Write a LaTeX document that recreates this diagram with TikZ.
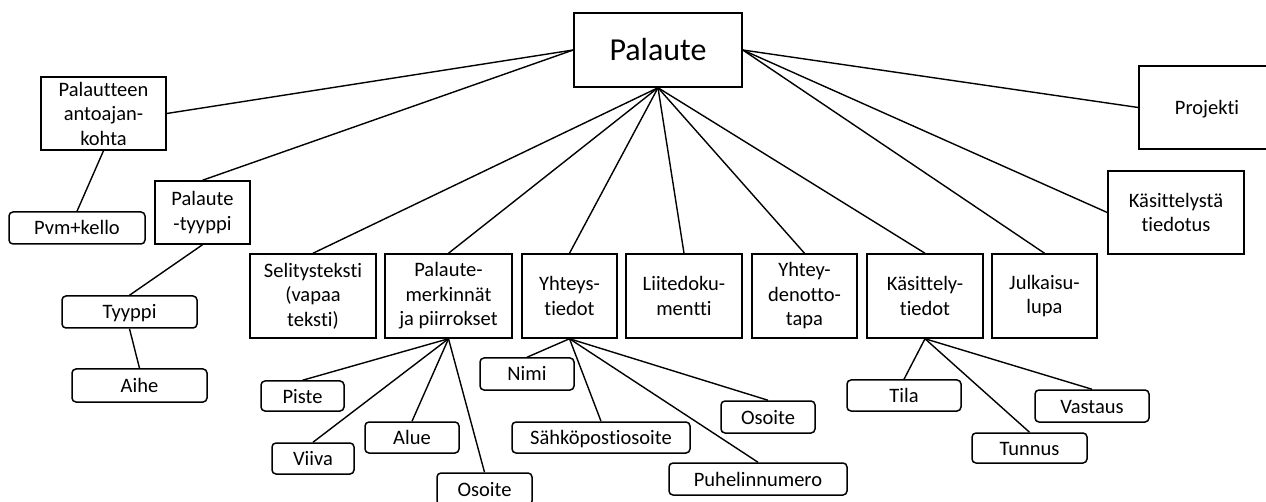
\documentclass[tikz,border=0pt]{standalone}
\usepackage{fontspec}
\setmainfont{Carlito}[Ligatures=NoCommon]
\usetikzlibrary{positioning}

\begin{document}
\begin{tikzpicture}[
    x=1pt, y=-1pt,
    box/.style={draw, line width=1.5pt, align=center, inner sep=0pt, font=\fontsize{20.5}{24.5}\selectfont},
    leaf/.style={box, rounded corners=4pt, text height=19.5pt, text depth=5.5pt},
    edge/.style={line width=1.4pt}
]
    \clip (0,0) rectangle (1266,502);

    \node[box, minimum width=168pt, minimum height=74pt, font=\fontsize{32}{38}\selectfont] (palaute) at (658,50) {Palaute};

    \node[box, minimum width=125pt, minimum height=73pt] (antoaika) at (103.5,113.5) {Palautteen\\antoajan-\\kohta};
    \node[leaf, minimum width=136pt, minimum height=32pt] (pvm) at (77,228) {Pvm+kello};
    \node[box, minimum width=95pt, minimum height=63pt] (ptyyppi) at (202.5,212.5) {Palaute\\-tyyppi};
    \node[leaf, minimum width=135pt, minimum height=32pt] (tyyppi) at (129.5,312) {Tyyppi};
    \node[leaf, minimum width=135pt, minimum height=33pt] (aihe) at (139.5,385.5) {Aihe};

    \node[box, minimum width=126pt, minimum height=84pt] (selitys) at (313,296) {Selitysteksti\\(vapaa\\teksti)};
    \node[box, minimum width=127pt, minimum height=84pt] (merkinnat) at (448.5,296) {Palaute-\\merkinnät\\ja piirrokset};
    \node[box, minimum width=95pt, minimum height=84pt] (yhteys) at (569.5,296) {Yhteys-\\tiedot};
    \node[box, minimum width=116pt, minimum height=84pt] (liite) at (684,296) {Liitedoku-\\mentti};
    \node[box, minimum width=105pt, minimum height=84pt] (yhteydenotto) at (804.5,296) {Yhtey-\\denotto-\\tapa};
    \node[box, minimum width=116pt, minimum height=84pt] (kasittely) at (925,296) {Käsittely-\\tiedot};
    \node[box, minimum width=105pt, minimum height=84pt] (julkaisu) at (1044.5,296) {Julkaisu-\\lupa};
    \node[box, minimum width=136pt, minimum height=83pt] (tiedotus) at (1176,212.5) {Käsittelystä\\tiedotus};
    \node[box, minimum width=136pt, minimum height=83pt, text height=19.5pt, text depth=5.5pt] (projekti) at (1207,107.5) {Projekti};

    \node[leaf, minimum width=83pt, minimum height=30pt] (piste) at (302.5,396) {Piste};
    \node[leaf, minimum width=82pt, minimum height=31pt] (viiva) at (313,458.5) {Viiva};
    \node[leaf, minimum width=94pt, minimum height=31pt] (alue) at (412,437.5) {Alue};
    \node[leaf, minimum width=95pt, minimum height=32pt] (osoite1) at (484.5,489) {Osoite};

    \node[leaf, minimum width=94pt, minimum height=32pt] (nimi) at (527,374) {Nimi};
    \node[leaf, minimum width=178pt, minimum height=31pt] (sahkoposti) at (601,437.5) {Sähköpostiosoite};
    \node[leaf, minimum width=94pt, minimum height=32pt] (osoite2) at (768,417) {Osoite};
    \node[leaf, minimum width=178pt, minimum height=32pt] (puhelin) at (758,479) {Puhelinnumero};

    \node[leaf, minimum width=114pt, minimum height=31pt] (tila) at (904,395.5) {Tila};
    \node[leaf, minimum width=114pt, minimum height=32pt] (vastaus) at (1092,406) {Vastaus};
    \node[leaf, minimum width=115pt, minimum height=30pt] (tunnus) at (1029.5,448) {Tunnus};

    \draw[edge] (palaute.west) -- (antoaika.east);
    \draw[edge] (palaute.west) -- (ptyyppi.north);

    \foreach \m in {selitys,merkinnat,yhteys,liite,yhteydenotto,kasittely} {
        \draw[edge] (palaute.south) -- (\m.north);
    }

    \foreach \m in {projekti.west,tiedotus.west,julkaisu.north} {
        \draw[edge] (palaute.east) -- (\m);
    }

    \foreach \p/\c in {antoaika/pvm,ptyyppi/tyyppi,tyyppi/aihe,
        merkinnat/piste,merkinnat/viiva,merkinnat/alue,merkinnat/osoite1,
        yhteys/nimi,yhteys/sahkoposti,yhteys/osoite2,yhteys/puhelin,
        kasittely/tila,kasittely/vastaus,kasittely/tunnus} {
        \draw[edge] (\p.south) -- (\c.north);
    }
\end{tikzpicture}
\end{document}
